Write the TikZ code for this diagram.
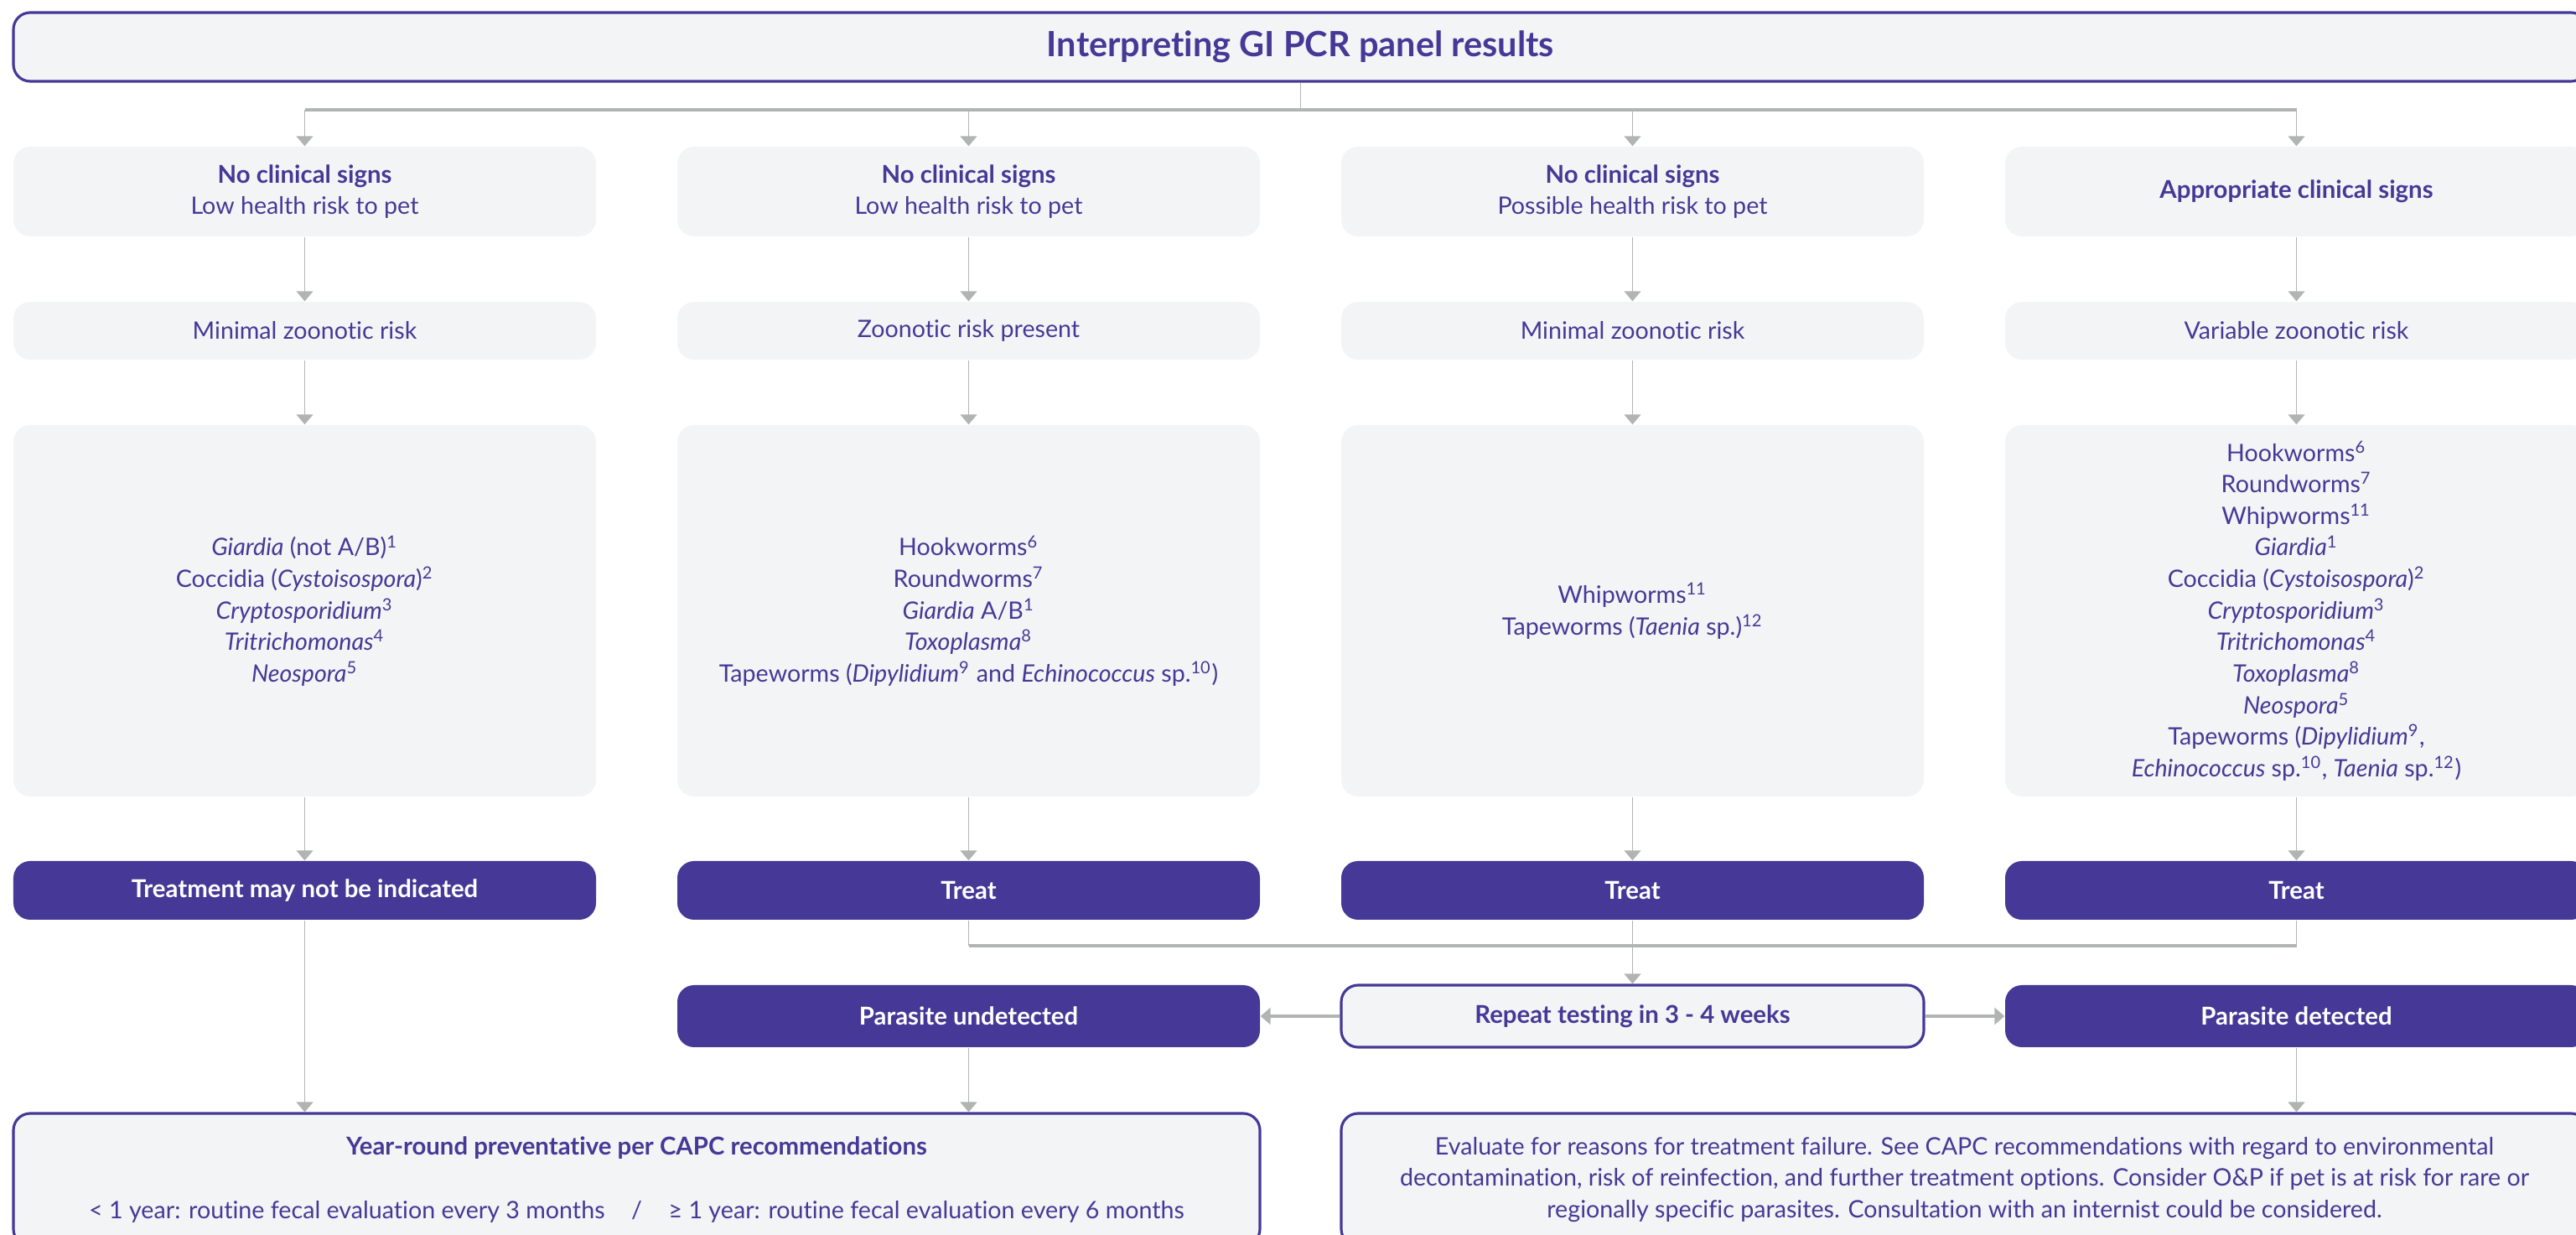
\documentclass[tikz,border=0pt]{standalone}
\usepackage{fontspec}
\setmainfont[Ligatures=NoCommon]{Lato}
\usetikzlibrary{arrows.meta,positioning}

\definecolor{capcpurple}{RGB}{70,56,150}
\definecolor{panelgray}{RGB}{243,244,246}
\definecolor{linegray}{RGB}{178,180,180}
\newcommand\bodyfont{\fontsize{8.15}{10.7}\selectfont}
\newcommand\boldfont{\fontsize{8.35}{10.7}\selectfont\bfseries}
\newcommand\titlefont{\fontsize{11.8}{14}\selectfont\bfseries}

\tikzset{
  panel/.style={fill=panelgray, rounded corners=0.2cm, text=capcpurple, align=center, minimum width=6.95cm, inner sep=0pt, font=\bodyfont},
  framed/.style={panel, draw=capcpurple, line width=0.9pt},
  result/.style={fill=capcpurple, rounded corners=0.2cm, text=white, align=center, minimum width=6.95cm, minimum height=0.70cm, inner sep=0pt, font=\boldfont},
  stem/.style={draw=linegray, line width=0.5pt},
  bus/.style={draw=linegray, line width=0.9pt},
  link/.style={stem, -{Triangle[width=0.2cm,length=0.12cm]}},
}

\begin{document}
\begin{tikzpicture}
\useasboundingbox (0,0) rectangle (30.73,-14.73);
\clip (0,0) rectangle (30.73,-14.73);

\node[framed, minimum width=30.71cm, minimum height=0.82cm, font=\titlefont] (title) at (15.515,-0.56) {Interpreting GI PCR panel results};

\node[panel, minimum height=1.07cm] (sign1) at (3.635,-2.285) {{\boldfont No clinical signs}\\Low health risk to pet};
\node[panel, minimum height=1.07cm] (sign2) at (11.555,-2.285) {{\boldfont No clinical signs}\\Low health risk to pet};
\node[panel, minimum height=1.07cm] (sign3) at (19.475,-2.285) {{\boldfont No clinical signs}\\Possible health risk to pet};
\node[panel, minimum height=1.07cm, font=\boldfont] (sign4) at (27.395,-2.285) {Appropriate clinical signs};

\node[panel, minimum height=0.69cm] (risk1) at (3.635,-3.945) {Minimal zoonotic risk};
\node[panel, minimum height=0.69cm] (risk2) at (11.555,-3.945) {Zoonotic risk present};
\node[panel, minimum height=0.69cm] (risk3) at (19.475,-3.945) {Minimal zoonotic risk};
\node[panel, minimum height=0.69cm] (risk4) at (27.395,-3.945) {Variable zoonotic risk};

\node[panel, minimum height=4.43cm] (agents1) at (3.635,-7.285) {\textit{Giardia} (not A/B)\textsuperscript{1}\\Coccidia (\textit{Cystoisospora})\textsuperscript{2}\\\textit{Cryptosporidium}\textsuperscript{3}\\\textit{Tritrichomonas}\textsuperscript{4}\\\textit{Neospora}\textsuperscript{5}};
\node[panel, minimum height=4.43cm] (agents2) at (11.555,-7.285) {Hookworms\textsuperscript{6}\\Roundworms\textsuperscript{7}\\\textit{Giardia} A/B\textsuperscript{1}\\\textit{Toxoplasma}\textsuperscript{8}\\Tapeworms (\textit{Dipylidium}\textsuperscript{9} and \textit{Echinococcus} sp.\textsuperscript{10})};
\node[panel, minimum height=4.43cm] (agents3) at (19.475,-7.285) {Whipworms\textsuperscript{11}\\Tapeworms (\textit{Taenia} sp.)\textsuperscript{12}};
\node[panel, minimum height=4.43cm] (agents4) at (27.395,-7.285) {Hookworms\textsuperscript{6}\\Roundworms\textsuperscript{7}\\Whipworms\textsuperscript{11}\\\textit{Giardia}\textsuperscript{1}\\Coccidia (\textit{Cystoisospora})\textsuperscript{2}\\\textit{Cryptosporidium}\textsuperscript{3}\\\textit{Tritrichomonas}\textsuperscript{4}\\\textit{Toxoplasma}\textsuperscript{8}\\\textit{Neospora}\textsuperscript{5}\\Tapeworms (\textit{Dipylidium}\textsuperscript{9},\\\textit{Echinococcus} sp.\textsuperscript{10}, \textit{Taenia} sp.\textsuperscript{12})};

\node[result] (treat1) at (3.635,-10.62) {Treatment may not be indicated};
\node[result] (treat2) at (11.555,-10.62) {Treat};
\node[result] (treat3) at (19.475,-10.62) {Treat};
\node[result] (treat4) at (27.395,-10.62) {Treat};

\node[result, minimum height=0.74cm] (undetected) at (11.555,-12.12) {Parasite undetected};
\node[framed, minimum height=0.74cm, font=\boldfont] (repeat) at (19.475,-12.12) {Repeat testing in 3 - 4 weeks};
\node[result, minimum height=0.74cm] (detected) at (27.395,-12.12) {Parasite detected};

\node[framed, minimum width=14.87cm, minimum height=1.58cm] (prevent) at (7.595,-14.07) {{\boldfont Year-round preventative per CAPC recommendations}\\[10.7pt]< 1 year: routine fecal evaluation every 3 months\hspace{1.1em}/\hspace{1.1em}≥ 1 year: routine fecal evaluation every 6 months};
\node[framed, minimum width=14.87cm, minimum height=1.58cm] (failure) at (23.435,-14.07) {Evaluate for reasons for treatment failure. See CAPC recommendations with regard to environmental\\decontamination, risk of reinfection, and further treatment options. Consider O\&P if pet is at risk for rare or\\regionally specific parasites. Consultation with an internist could be considered.};

\coordinate (split) at (15.515,-1.31);
\coordinate (merge) at (19.475,-11.28);

\draw[stem] (title.south) -- (split);
\draw[bus] (sign1.north |- split) -- (sign4.north |- split);
\draw[link] (sign1.north |- split) -- (sign1);
\draw[link] (sign2.north |- split) -- (sign2);
\draw[link] (sign3.north |- split) -- (sign3);
\draw[link] (sign4.north |- split) -- (sign4);

\draw[link] (sign1) -- (risk1);
\draw[link] (sign2) -- (risk2);
\draw[link] (sign3) -- (risk3);
\draw[link] (sign4) -- (risk4);
\draw[link] (risk1) -- (agents1);
\draw[link] (risk2) -- (agents2);
\draw[link] (risk3) -- (agents3);
\draw[link] (risk4) -- (agents4);
\draw[link] (agents1) -- (treat1);
\draw[link] (agents2) -- (treat2);
\draw[link] (agents3) -- (treat3);
\draw[link] (agents4) -- (treat4);

\draw[stem] (treat2) -- (treat2 |- merge);
\draw[stem] (treat3) -- (merge);
\draw[stem] (treat4) -- (treat4 |- merge);
\draw[bus] (treat2 |- merge) -- (treat4 |- merge);
\draw[link] (merge) -- (repeat);

\draw[link, line width=0.9pt] (repeat) -- (undetected);
\draw[link, line width=0.9pt] (repeat) -- (detected);

\draw[link] (treat1.south) -- (treat1.south |- prevent.north);
\draw[link] (undetected.south) -- (undetected.south |- prevent.north);
\draw[link] (detected.south) -- (detected.south |- failure.north);
\end{tikzpicture}
\end{document}
